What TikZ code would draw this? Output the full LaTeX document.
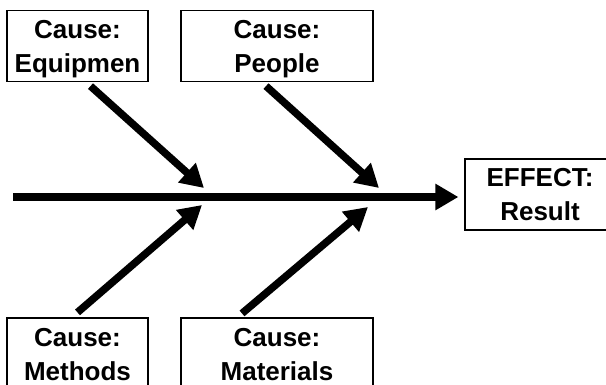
\documentclass[tikz,border=0pt]{standalone}
\usepackage{fontspec}
\setmainfont{Liberation Sans}
\usetikzlibrary{arrows.meta}
\begin{document}
\begin{tikzpicture}[x=1pt,y=-1pt,
    causebox/.style={draw,line width=1.2pt,inner sep=0pt,minimum height=71pt,%
      text height=62pt,text depth=9pt,%
      align=center,font=\bfseries\fontsize{26}{34}\selectfont},
    bone/.style={line width=7.5pt,-{Triangle[length=23pt,width=25pt]}}]
    \useasboundingbox (0,0) rectangle (606,385);
    \clip (0,0) rectangle (606,385);
    % Causes
    \node[causebox,minimum width=141pt] (equip) at (77.5,46) {Cause:\\Equipmen};
    \node[causebox,minimum width=192pt] (people) at (277,46) {Cause:\\People};
    \node[causebox,minimum width=141pt] (methods) at (77.5,353.5) {Cause:\\Methods};
    \node[causebox,minimum width=192pt] (mater) at (277,353.5) {Cause:\\Materials};
    % Effect
    \node[causebox,minimum width=150pt] (effect) at (540,194.5) {EFFECT:\\Result};
    % Spine
    \coordinate (tail) at (13,197);
    \draw [bone] [shorten >=6pt] (tail) -- (tail -| effect.west);
    % Bones
    \coordinate (t1) at (204,188);
    \coordinate (t2) at (379,188);
    \coordinate (b1) at (202,205);
    \coordinate (b2) at (368,207);
    \draw [bone] ([xshift=13pt,yshift=-4pt]equip.south) -- (t1);
    \draw [bone] ([xshift=-11pt,yshift=-4pt]people.south) -- (t2);
    \draw [bone] ([xshift=0pt,yshift=5pt]methods.north) -- (b1);
    \draw [bone] ([xshift=-35pt,yshift=4pt]mater.north) -- (b2);
\end{tikzpicture}
\end{document}
